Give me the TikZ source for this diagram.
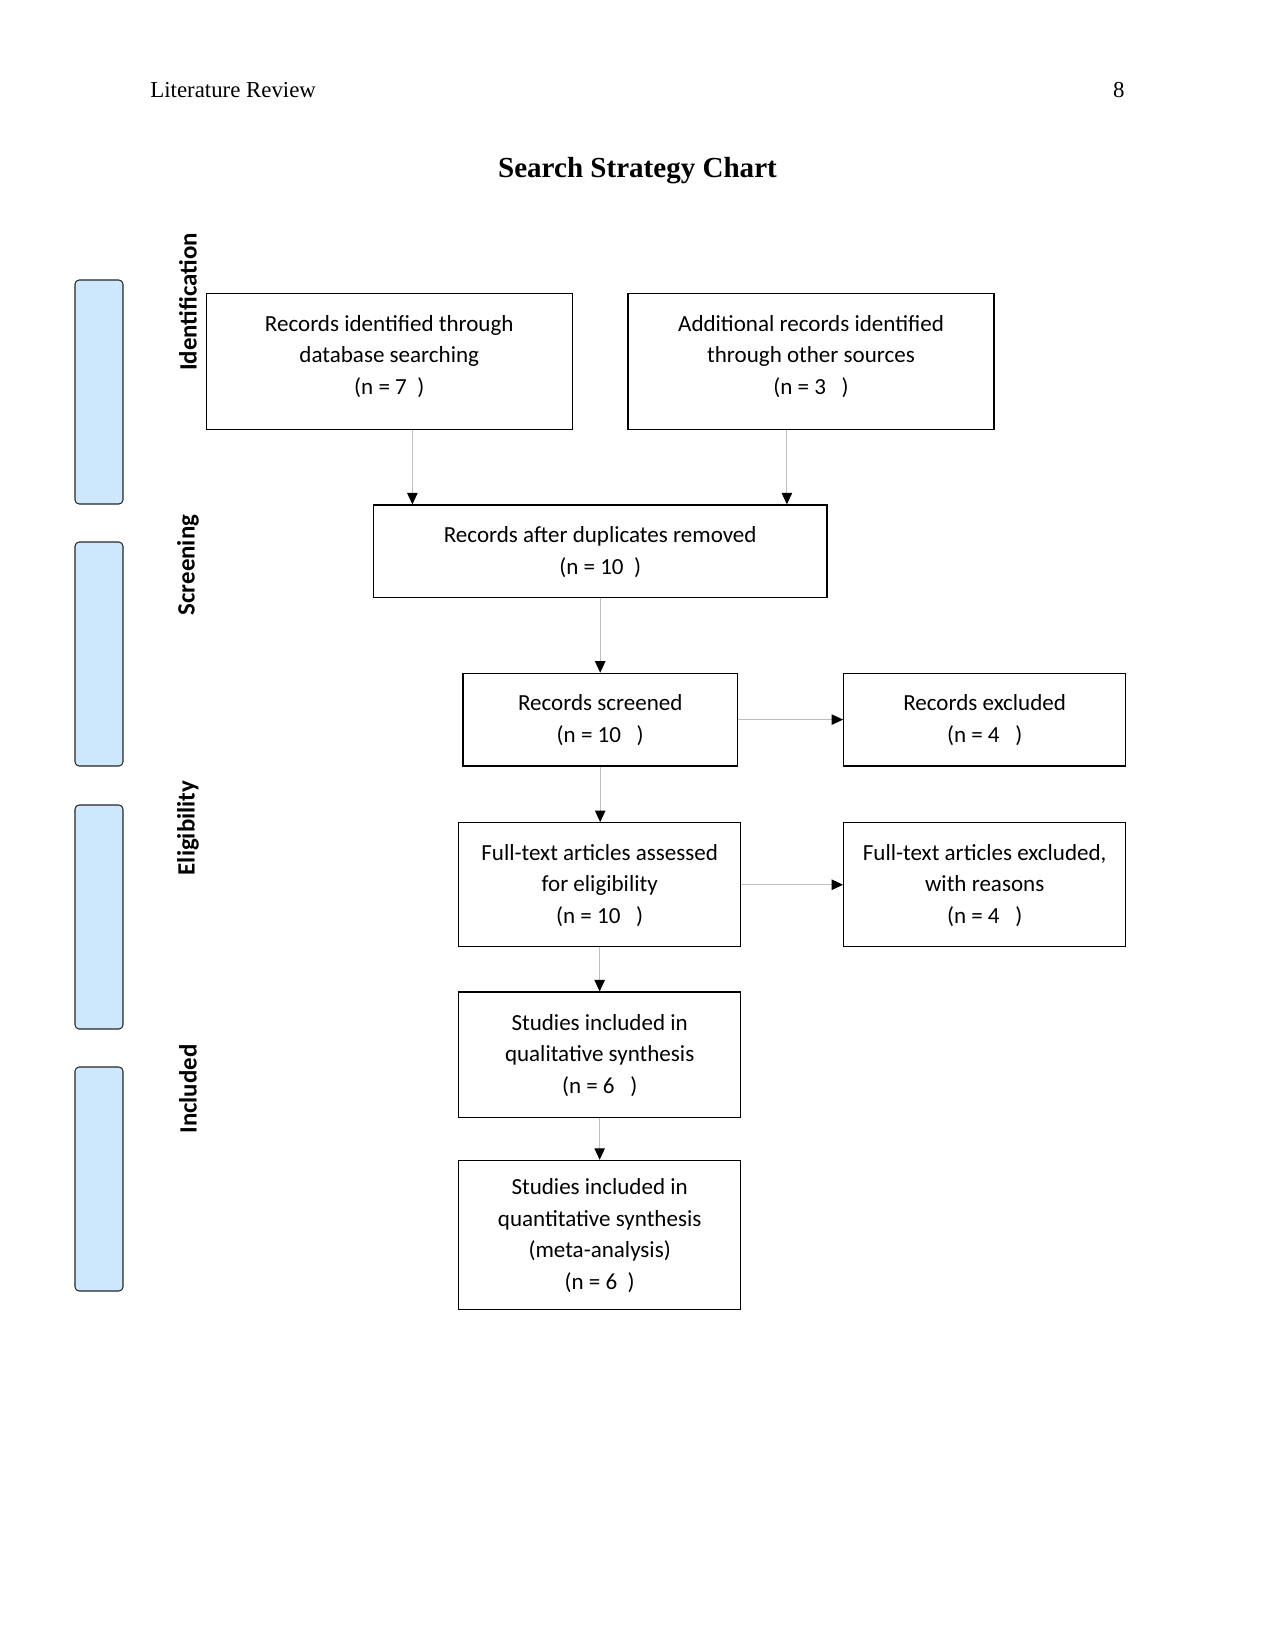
\documentclass[tikz,border=0pt]{standalone}
\usepackage{fontspec}
\setmainfont{Liberation Serif}
\newfontfamily\boxfont{Carlito}
\usetikzlibrary{arrows.meta,fit}
\definecolor{barblue}{RGB}{205,232,252}
\definecolor{linegray}{RGB}{190,190,190}
\begin{document}
\begin{tikzpicture}[x=0.48bp,y=-0.48bp,
 box/.style={draw=black, line width=0.6pt, inner sep=0pt},
 boxtext/.style={align=center, inner sep=0pt, font=\boxfont\fontsize{11.1}{15.2}\selectfont},
 bar/.style={draw=black!85, fill=barblue, rounded corners=2bp, line width=0.5pt, inner sep=0pt},
 phase/.style={rotate=90, font=\boxfont\bfseries\fontsize{12}{14}\selectfont},
 conn/.style={draw=linegray, line width=0.5pt, -{Triangle[width=5bp,length=5.5bp,color=black,fill=black]}}]
\useasboundingbox (0,0) rectangle (1275,1650);
% header and title
\node[anchor=base west, inner sep=0pt, font=\fontsize{11}{13}\selectfont] (hdr) at (150,97) {Literature Review};
\node[anchor=base east, inner sep=0pt, font=\fontsize{11}{13}\selectfont] (pg) at (1125,97) {8};
\node[anchor=base, inner sep=0pt, font=\bfseries\fontsize{14}{16}\selectfont] (title) at (637.5,177) {Search Strategy Chart};
% phase bars
\node[bar, fit={(75,280) (123,504)}] (bar1) {};
\node[bar, fit={(75,542) (123,766)}] (bar2) {};
\node[bar, fit={(75,805) (123,1029)}] (bar3) {};
\node[bar, fit={(75,1067) (123,1291)}] (bar4) {};
\node[phase] (ph1) at (188,302) {Identification};
\node[phase] (ph2) at (188,565) {Screening};
\node[phase] (ph3) at (188,828) {Eligibility};
\node[phase] (ph4) at (188,1089) {Included};
% boxes
\node[box, fit={(206.2,293.5) (572.3,429.2)}, label={[boxtext,yshift=2.5bp]center:{Records identified through\\database searching\\(n = 7\ \ )}}] (A) {};
\node[box, fit={(628,293.5) (994.1,429.2)}, label={[boxtext,yshift=2.5bp]center:{Additional records identified\\through other sources\\(n = 3\ \ \ )}}] (B) {};
\node[box, fit={(373.5,505) (826.9,597.5)}, label={[boxtext,yshift=-0.3bp]center:{Records after duplicates removed\\(n = 10\ \ )}}] (C) {};
\node[box, fit={(462.9,673.3) (737.5,765.9)}, label={[boxtext,yshift=-0.3bp]center:{Records screened\\(n = 10\ \ \ )}}] (D) {};
\node[box, fit={(843.7,673.3) (1125.6,765.9)}, label={[boxtext,yshift=-0.3bp]center:{Records excluded\\(n = 4\ \ \ )}}] (E) {};
\node[box, fit={(458.7,822.7) (740.6,946.8)}, label={[boxtext,yshift=-0.3bp]center:{Full-text articles assessed\\for eligibility\\(n = 10\ \ \ )}}] (F) {};
\node[box, fit={(843.7,822.7) (1125.6,946.8)}, label={[boxtext,yshift=-0.3bp]center:{Full-text articles excluded,\\with reasons\\(n = 4\ \ \ )}}] (G) {};
\node[box, fit={(458.7,992) (740.6,1117.2)}, label={[boxtext,yshift=-0.3bp]center:{Studies included in\\qualitative synthesis\\(n = 6\ \ \ )}}] (H) {};
\node[box, fit={(458.7,1160.4) (740.6,1309.7)}, label={[boxtext,yshift=-0.3bp]center:{Studies included in\\quantitative synthesis\\(meta-analysis)\\(n = 6\ \ )}}] (I) {};
% connectors
\coordinate (xa) at (412.4,0);
\coordinate (xb) at (786.9,0);
\draw[conn] (A.south -| xa) -- (C.north -| xa);
\draw[conn] (B.south -| xb) -- (C.north -| xb);
\draw[conn] (C.south) -- (C.south |- D.north);
\draw[conn] (D.east) -- (E.west);
\draw[conn] (D.south) -- (D.south |- F.north);
\draw[conn] (F.east) -- (G.west);
\draw[conn] (F.south) -- (H.north);
\draw[conn] (H.south) -- (I.north);
\end{tikzpicture}
\end{document}
